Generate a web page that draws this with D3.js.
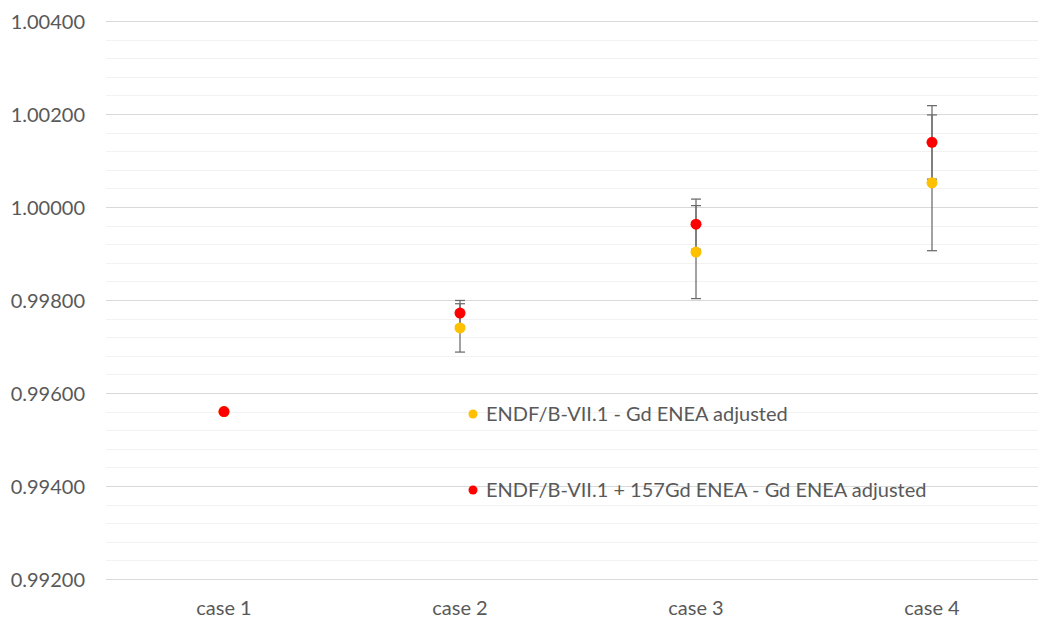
<!DOCTYPE html>
<html>
<head>
<meta charset="utf-8">
<script src="https://cdn.jsdelivr.net/npm/d3@7/dist/d3.min.js"></script>
<style>
  html, body { margin: 0; padding: 0; background: #fff; }
  svg { display: block; }
  text { font-family: Lato, "Open Sans", sans-serif; fill: #595959; }
</style>
</head>
<body>
<svg id="chart" width="1038" height="618"></svg>
<script>
// Categories and series
const cases = ["case 1", "case 2", "case 3", "case 4"];
const adjustedValues = [0.99560, 0.99740, 0.99903, 1.00052];
const adjustedErrors = [0, 0.00052, 0.00100, 0.00146];
const gd157Values = [0.99560, 0.99772, 0.99963, 1.00139];
const gd157Errors = [0, 0.00027, 0.00054, 0.00079];
const yTicks = [0.992, 0.994, 0.996, 0.998, 1.000, 1.002, 1.004];
const seriesNames = [
  "ENDF/B-VII.1 - Gd ENEA adjusted",
  "ENDF/B-VII.1 + 157Gd ENEA - Gd ENEA adjusted"
];
const seriesColors = ["#FFC000", "#FF0000"];

const svg = d3.select("#chart");
const plotLeft = 106, plotRight = 1050, plotTop = 21, plotBottom = 579;

const x = d3.scaleBand().domain(cases).range([plotLeft, plotRight]);
const y = d3.scaleLinear().domain([0.992, 1.004]).range([plotBottom, plotTop]);

// Minor gridlines
const minorTicks = d3.range(0, 31).map(i => 0.992 + i * 0.0004).filter((v, i) => i % 5 !== 0);
svg.append("g").selectAll("line").data(minorTicks).join("line")
  .attr("x1", plotLeft).attr("x2", plotRight)
  .attr("y1", d => Math.round(y(d)) + 0.5).attr("y2", d => Math.round(y(d)) + 0.5)
  .attr("stroke", "#f2f2f2").attr("stroke-width", 1);

// Major gridlines
svg.append("g").selectAll("line").data(yTicks).join("line")
  .attr("x1", plotLeft).attr("x2", plotRight)
  .attr("y1", d => Math.round(y(d)) + 0.5).attr("y2", d => Math.round(y(d)) + 0.5)
  .attr("stroke", "#d9d9d9").attr("stroke-width", 1);

// Y axis labels
const yAxis = d3.axisLeft(y).tickValues(yTicks).tickFormat(d3.format(".5f")).tickSize(0).tickPadding(0);
const yg = svg.append("g").attr("transform", "translate(85,0)").call(yAxis);
yg.select(".domain").remove();
yg.selectAll("text").style("font-size", "20px").attr("fill", "#595959").attr("dy", "0.35em");

// X axis labels
const xAxis = d3.axisBottom(x).tickSize(0).tickPadding(0);
const xg = svg.append("g").attr("transform", "translate(0,608)").call(xAxis);
xg.select(".domain").remove();
xg.selectAll("text").style("font-size", "20px").attr("fill", "#595959").attr("dy", "0.35em");

const cx = d => x(d) + x.bandwidth() / 2;

const series = [
  { values: adjustedValues, errors: adjustedErrors, color: seriesColors[0] },
  { values: gd157Values, errors: gd157Errors, color: seriesColors[1] }
];

// Error bars under the markers
const capHalf = 5;
series.forEach(s => {
  const rows = cases.map((c, i) => ({ c, v: s.values[i], e: s.errors[i] })).filter(r => r.e > 0);
  const g = svg.append("g").attr("stroke", "#6b6b6b").attr("stroke-width", 1.25);
  g.selectAll(".stem").data(rows).join("line")
    .attr("x1", r => cx(r.c)).attr("x2", r => cx(r.c))
    .attr("y1", r => y(r.v + r.e)).attr("y2", r => y(r.v - r.e));
  g.selectAll(".capTop").data(rows).join("line")
    .attr("x1", r => cx(r.c) - capHalf).attr("x2", r => cx(r.c) + capHalf)
    .attr("y1", r => y(r.v + r.e)).attr("y2", r => y(r.v + r.e));
  g.selectAll(".capBot").data(rows).join("line")
    .attr("x1", r => cx(r.c) - capHalf).attr("x2", r => cx(r.c) + capHalf)
    .attr("y1", r => y(r.v - r.e)).attr("y2", r => y(r.v - r.e));
});

// Markers
series.forEach(s => {
  svg.append("g").selectAll("circle").data(cases).join("circle")
    .attr("cx", c => cx(c))
    .attr("cy", (c, i) => y(s.values[i]))
    .attr("r", 5.5)
    .attr("fill", s.color);
});

// Legend
const legendY = [414, 490];
const lg = svg.append("g");
seriesNames.forEach((name, i) => {
  lg.append("circle").attr("cx", 473).attr("cy", legendY[i]).attr("r", 4.5).attr("fill", seriesColors[i]);
  lg.append("text").attr("x", 486).attr("y", legendY[i]).attr("dy", "0.35em")
    .style("font-size", "20px").text(name);
});
</script>
</body>
</html>
